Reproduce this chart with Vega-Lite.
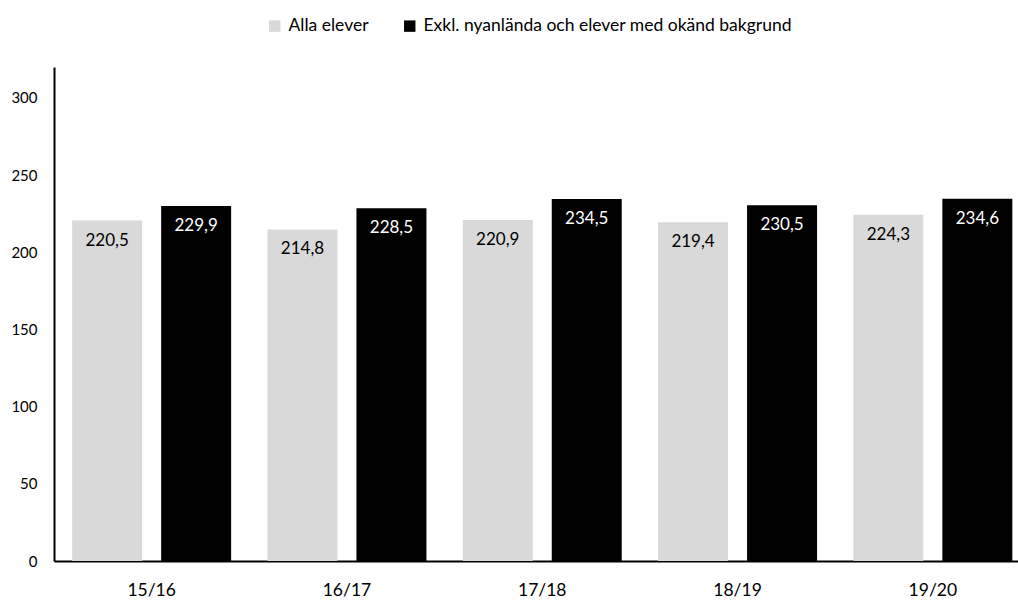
{
  "$schema": "https://vega.github.io/schema/vega-lite/v6.json",
  "autosize": "none",
  "padding": {"left": 54, "top": 67, "right": 0, "bottom": 40},
  "width": 964,
  "height": 494,
  "data": {
    "values": [
      {"year": "15/16", "series": "Alla elever", "value": 220.5},
      {"year": "15/16", "series": "Exkl. nyanlända och elever med okänd bakgrund", "value": 229.9},
      {"year": "16/17", "series": "Alla elever", "value": 214.8},
      {"year": "16/17", "series": "Exkl. nyanlända och elever med okänd bakgrund", "value": 228.5},
      {"year": "17/18", "series": "Alla elever", "value": 220.9},
      {"year": "17/18", "series": "Exkl. nyanlända och elever med okänd bakgrund", "value": 234.5},
      {"year": "18/19", "series": "Alla elever", "value": 219.4},
      {"year": "18/19", "series": "Exkl. nyanlända och elever med okänd bakgrund", "value": 230.5},
      {"year": "19/20", "series": "Alla elever", "value": 224.3},
      {"year": "19/20", "series": "Exkl. nyanlända och elever med okänd bakgrund", "value": 234.6}
    ]
  },
  "encoding": {
    "x": {
      "field": "year",
      "type": "nominal",
      "scale": {"range": [0, 976.5], "paddingInner": 0.186, "paddingOuter": 0.093},
      "axis": {
        "title": null,
        "labelAngle": 0,
        "ticks": false,
        "domainColor": "#000000",
        "domainWidth": 2,
        "labelPadding": 20,
        "labelFontSize": 17.5,
        "labelColor": "#000000"
      }
    },
    "xOffset": {
      "field": "series",
      "type": "nominal",
      "sort": ["Alla elever", "Exkl. nyanlända och elever med okänd bakgrund"],
      "scale": {"paddingInner": 0.2135, "paddingOuter": 0}
    },
    "y": {
      "field": "value",
      "type": "quantitative",
      "scale": {"domain": [0, 320], "nice": false},
      "axis": {
        "title": null,
        "values": [0, 50, 100, 150, 200, 250, 300],
        "grid": false,
        "ticks": false,
        "domainColor": "#000000",
        "domainWidth": 2,
        "labelPadding": 17,
        "labelFontSize": 15,
        "labelColor": "#000000"
      }
    }
  },
  "layer": [
    {
      "mark": {"type": "bar"},
      "encoding": {
        "color": {
          "field": "series",
          "type": "nominal",
          "scale": {
            "domain": ["Alla elever", "Exkl. nyanlända och elever med okänd bakgrund"],
            "range": ["#d9d9d9", "#000000"]
          },
          "legend": {
            "title": null,
            "orient": "none",
            "direction": "horizontal",
            "legendX": 212,
            "legendY": -50,
            "symbolType": "square",
            "symbolSize": 130,
            "symbolStrokeWidth": 0,
            "labelFontSize": 17.5,
            "labelColor": "#000000",
            "labelOffset": 5,
            "labelLimit": 0,
            "columnPadding": 32
          }
        }
      }
    },
    {
      "mark": {"type": "text", "baseline": "middle", "dy": 20, "fontSize": 17},
      "encoding": {
        "text": {"field": "value", "type": "quantitative", "format": ".1f", "formatType": "number"},
        "color": {
          "condition": {"test": "datum.series === 'Alla elever'", "value": "#000000"},
          "value": "#ffffff"
        }
      }
    }
  ],
  "config": {
    "view": {"stroke": null},
    "font": "Lato",
    "locale": {"number": {"decimal": ",", "thousands": " ", "grouping": [3], "currency": ["", " kr"]}}
  }
}
